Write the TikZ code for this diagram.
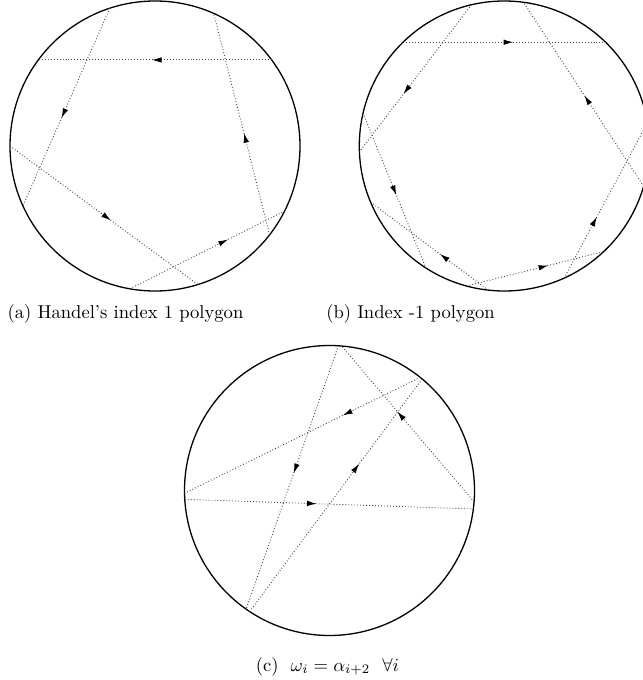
\documentclass[tikz,border=0pt]{standalone}
\usetikzlibrary{arrows.meta,decorations.markings}
\begin{document}
\begin{tikzpicture}[x=0.5376pt,y=-0.5376pt,
  rim/.style={line width=0.7pt},
  chord/.style={dash pattern=on 0.45pt off 1.15pt, line width=0.5pt, black!75},
  arr/.style={postaction={decorate,decoration={markings,mark=at position #1 with {\arrow[solid,black]{Latex[length=5.2pt,width=3pt]}}}}},
  captext/.style={anchor=base, inner sep=0pt, font=\fontsize{10}{12}\selectfont}]
\useasboundingbox (0,0) rectangle (642,680);
% (a)
\begin{scope}[shift={(155,146)}]
  \draw[rim] (0,0) circle (145);
  \coordinate (a1s) at (-36.4:145);  \coordinate (a1e) at (-143.6:145);
  \coordinate (a2s) at (-108.2:145); \coordinate (a2e) at (155.6:145);
  \coordinate (a3s) at (180:145);    \coordinate (a3e) at (72.8:145);
  \coordinate (a4s) at (100:145);    \coordinate (a4e) at (26.6:145);
  \coordinate (a5s) at (37.8:145);   \coordinate (a5e) at (-66.1:145);
  \draw[chord,arr=0.513] (a1s) -- (a1e);
  \draw[chord,arr=0.555] (a2s) -- (a2e);
  \draw[chord,arr=0.537] (a3s) -- (a3e);
  \draw[chord,arr=0.634] (a4s) -- (a4e);
  \draw[chord,arr=0.46]  (a5s) -- (a5e);
\end{scope}
% (b)
\begin{scope}[shift={(504.3,146)}]
  \draw[rim] (0,0) circle (145);
  \coordinate (b1s) at (-134.3:145); \coordinate (b1e) at (-45.7:145);
  \coordinate (b2s) at (-103.1:145); \coordinate (b2e) at (177.7:145);
  \coordinate (b3s) at (-166.9:145); \coordinate (b3e) at (122.7:145);
  \coordinate (b4s) at (96.4:145);   \coordinate (b4e) at (157.2:145);
  \coordinate (b5s) at (105.1:145);  \coordinate (b5e) at (46.7:145);
  \coordinate (b6s) at (65.7:145);   \coordinate (b6e) at (-9.2:145);
  \coordinate (b7s) at (16.1:145);   \coordinate (b7e) at (-82.4:145);
  \draw[chord,arr=0.544] (b1s) -- (b1e);
  \draw[chord,arr=0.608] (b2s) -- (b2e);
  \draw[chord,arr=0.529] (b3s) -- (b3e);
  \draw[chord,arr=0.41]  (b4s) -- (b4e);
  \draw[chord,arr=0.596] (b5s) -- (b5e);
  \draw[chord,arr=0.395] (b6s) -- (b6e);
  \draw[chord,arr=0.493] (b7s) -- (b7e);
\end{scope}
% (c)
\begin{scope}[shift={(329.5,490.5)}]
  \draw[rim] (0,0) circle (145);
  \coordinate (cAs) at (-86.5:145); \coordinate (cAe) at (125.1:145);
  \coordinate (cBs) at (-51.3:145); \coordinate (cBe) at (178.9:145);
  \coordinate (cCs) at (176.5:145); \coordinate (cCe) at (7.3:145);
  \coordinate (cDs) at (4.5:145);   \coordinate (cDe) at (-85.2:145);
  \coordinate (cEs) at (123.4:145); \coordinate (cEe) at (-50.3:145);
  \draw[chord,arr=0.484] (cAs) -- (cAe);
  \draw[chord,arr=0.328] (cBs) -- (cBe);
  \draw[chord,arr=0.457] (cCs) -- (cCe);
  \draw[chord,arr=0.58]  (cDs) -- (cDe);
  \draw[chord,arr=0.635] (cEs) -- (cEe);
\end{scope}
% captions
\node[captext] (capA) at (125.5,318) {(a) Handel's index 1 polygon};
\node[captext] (capB) at (410.5,318) {(b) Index -1 polygon};
\node[captext] (capC) at (327.5,671) {(c)\hspace{6.5pt}$\omega_i = \alpha_{i+2}\hspace{6.5pt}\forall i$};
\end{tikzpicture}
\end{document}
